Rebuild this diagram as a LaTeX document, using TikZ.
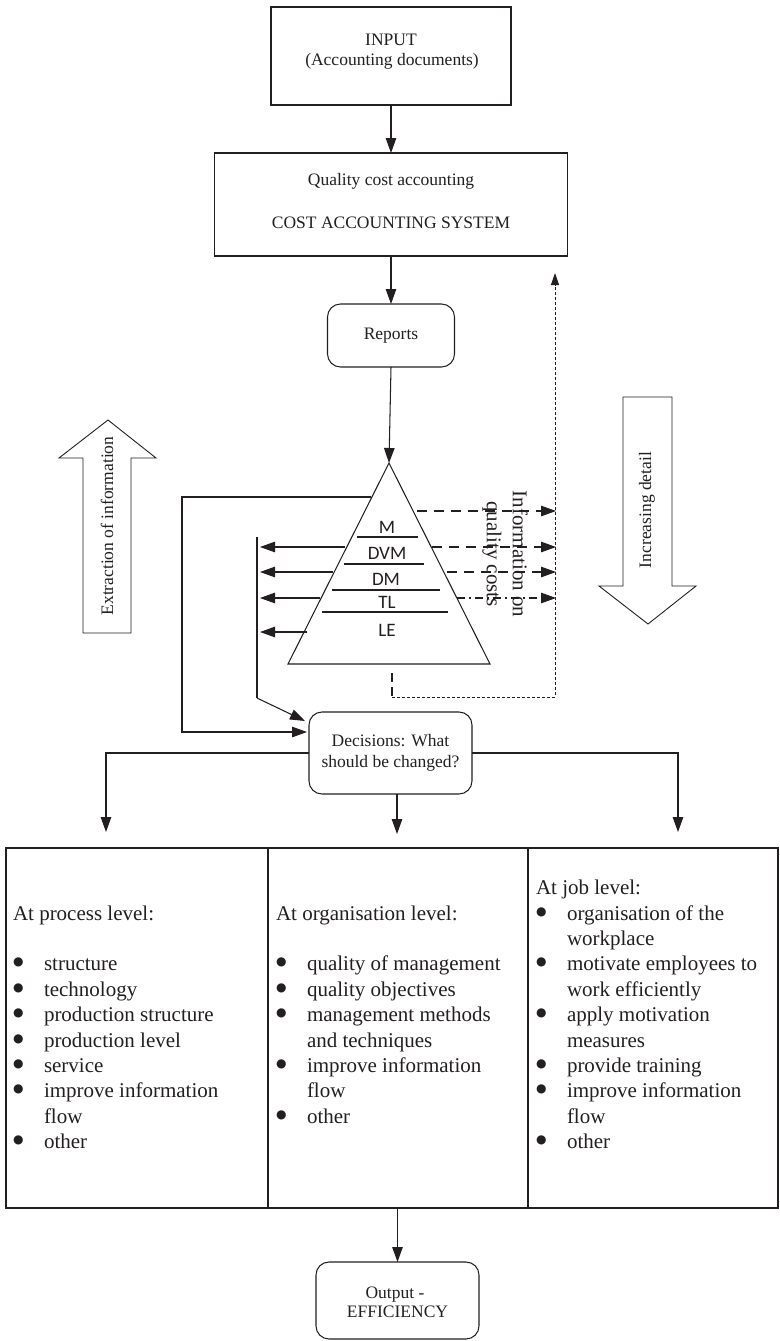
\documentclass[tikz,border=0pt]{standalone}
\usepackage{fontspec}
\setmainfont{Liberation Serif}
\newfontfamily\levelfont{Carlito}
\newfontfamily\dotfont{DejaVu Sans}
\usetikzlibrary{arrows.meta}

\definecolor{ink}{RGB}{35,31,32}

% one bullet entry of a list in a table cell, and its continuation line
\newcommand{\bigdot}{\raisebox{5pt}{\dotfont\fontsize{12}{12}\selectfont ●}}
\newcommand{\bulletline}[1]{\makebox[31pt][l]{\bigdot}#1}
\newcommand{\hangline}[1]{\hspace*{31pt}#1}

\begin{document}
\begin{tikzpicture}[x=1pt,y=-1pt,
  every node/.style={inner sep=0pt, outer sep=0pt, text=ink},
  line/.style={draw=ink, line width=1.05pt},
  box/.style={line, rectangle},
  rbox/.style={line, rectangle, rounded corners=13pt},
  arr/.style={line, -{Triangle[length=15pt,width=10.5pt]}},
  info/.style={line, dash pattern=on 10pt off 7pt, -{Triangle[length=15pt,width=10.5pt]}},
  fine/.style={line, line width=0.9pt, dash pattern=on 3pt off 2pt},
  body/.style={font=\fontsize{17.5}{21}\selectfont},
  celltext/.style={font=\fontsize{21}{25.4}\selectfont, anchor=base west},
  level/.style={font=\levelfont\fontsize{19}{22}\selectfont},
  bigarrow/.style={line, line width=0.9pt, fill=white},
]
\useasboundingbox (0,0) rectangle (779,1341);

% ---------- upper chain ----------
\node[box, minimum width=240, minimum height=98] (input) at (391,56) {};
\node[body, anchor=base] (inputtitle) at (391,45) {INPUT};
\node[body, anchor=base] (inputsub) at (392,65) {(Accounting documents)};

\node[box, minimum width=353, minimum height=103] (cas) at (391,204.5) {};
\node[body, anchor=base] (castitle) at (391,185) {Quality cost accounting};
\node[body, anchor=base] (cassub) at (391,228) {COST ACCOUNTING SYSTEM};

\node[rbox, minimum width=127, minimum height=63, body] (reports) at (391,335.5) {Reports};

\draw[arr] (input.south) -- (cas.north);
\draw[arr] (cas.south) -- (reports.north);

% ---------- pyramid of management levels ----------
\coordinate (apex) at (389,463);
\coordinate (bl) at (288,664);
\coordinate (br) at (490,664);
\draw[line] (apex) -- (bl) -- (br) -- cycle;
\draw[arr] (reports.south) -- (apex);

\draw[line] (357,537) -- (418,537);
\draw[line] (344,564) -- (424,564);
\draw[line] (332,590) -- (440,590);
\draw[line] (322,612) -- (448,612);
\node[level] (lvM) at (387,527) {M};
\node[level] (lvDVM) at (387,553) {DVM};
\node[level] (lvDM) at (386,579) {DM};
\node[level] (lvTL) at (387,602) {TL};
\node[level] (lvLE) at (387,630) {LE};

% ---------- decisions ----------
\node[rbox, minimum width=163, minimum height=82, body, align=center] (decisions) at (390.5,753) {Decisions: What\\should be changed?};

% collector on the left of the pyramid
\coordinate (ctop) at (257,537);
\coordinate (cbot) at (257,698);
\draw[line] (ctop) -- (cbot);
\coordinate (l1) at (345,547);
\coordinate (l2) at (333,572);
\coordinate (l3) at (320,598);
\coordinate (l4) at (307,632);
\draw[arr] (l1) -- (260,547);
\draw[arr] (l2) -- (260,572);
\draw[arr] (l3) -- (260,598);
\draw[arr] (l4) -- (260,632);
\coordinate (dcorner) at (305,721);
\draw[arr] (cbot) -- (dcorner);

% outer loop from the top of the pyramid
\coordinate (loopstart) at (371,497);
\coordinate (loopin) at (307,732);
\draw[arr] (loopstart) -- (182,497) -- (182,732) -- (loopin);

% information on quality costs, to the right
\coordinate (r1) at (417,511);
\coordinate (r2) at (432,547);
\coordinate (r3) at (447,572);
\coordinate (r4) at (457,598);
\draw[info] (r1) -- (556,511);
\draw[info] (r2) -- (556,547);
\draw[info] (r3) -- (556,572);
\draw[line, dash pattern=on 8pt off 4pt on 2pt off 4pt, -{Triangle[length=15pt,width=10.5pt]}] (r4) -- (556,598);
\node[rotate=-90, align=center, font=\fontsize{21}{26}\selectfont] (infotext) at (505,554) {Information on\\quality costs};

% feedback from the base of the pyramid
\coordinate (fb0) at (392,673);
\coordinate (fb1) at (392,697);
\coordinate (fb2) at (555,697);
\coordinate (fb3) at (555,273);
\draw[line, dash pattern=on 9pt off 5pt] (fb0) -- (fb1);
\draw[fine, -{Triangle[length=12pt,width=8pt]}] (fb1) -- (fb2) -- (fb3);

% ---------- block arrows ----------
\draw[bigarrow] (83,633) -- (83,458) -- (59,458) -- (108,420) -- (156,458) -- (131,458) -- (131,633) -- cycle;
\node[body, rotate=90] (extract) at (107,526) {Extraction of information};

\draw[bigarrow] (623,397) -- (672,397) -- (672,586) -- (696,586) -- (648,624) -- (599,586) -- (623,586) -- cycle;
\node[body, rotate=90] (detail) at (647,510) {Increasing detail};

% ---------- table of changes ----------
\node[box, minimum width=262, minimum height=360, anchor=north west] (c1) at (6,848) {};
\node[box, minimum width=260, minimum height=360, anchor=north west] (c2) at (268,848) {};
\node[box, minimum width=250, minimum height=360, anchor=north west] (c3) at (528,848) {};

\coordinate (c1top) at (106,832);
\coordinate (c2top) at (397,834);
\coordinate (c3top) at (678,832);
\draw[arr] (decisions.west) -| (c1top);
\draw[arr] (decisions.east) -| (c3top);
\draw[arr] (decisions.south -| c2top) -- (c2top);

\node[celltext] (t1) at (13,920) {\parbox[t]{245pt}{\raggedright
  At process level:\\[25.4pt]
  \bulletline{structure}\\
  \bulletline{technology}\\
  \bulletline{production structure}\\
  \bulletline{production level}\\
  \bulletline{service}\\
  \bulletline{improve information}\\
  \hangline{flow}\\
  \bulletline{other}}};

\node[celltext] (t2) at (276,920) {\parbox[t]{245pt}{\raggedright
  At organisation level:\\[25.4pt]
  \bulletline{quality of management}\\
  \bulletline{quality objectives}\\
  \bulletline{management methods}\\
  \hangline{and techniques}\\
  \bulletline{improve information}\\
  \hangline{flow}\\
  \bulletline{other}}};

\node[celltext] (t3) at (536,894.6) {\parbox[t]{240pt}{\raggedright
  At job level:\\
  \bulletline{organisation of the}\\
  \hangline{workplace}\\
  \bulletline{motivate employees to}\\
  \hangline{work efficiently}\\
  \bulletline{apply motivation}\\
  \hangline{measures}\\
  \bulletline{provide training}\\
  \bulletline{improve information}\\
  \hangline{flow}\\
  \bulletline{other}}};

% ---------- output ----------
\node[rbox, minimum width=163, minimum height=77] (output) at (397.5,1300.5) {};
\node[body, anchor=base] (outtitle) at (395,1298) {Output -};
\node[body, anchor=base] (outsub) at (397.5,1317) {EFFICIENCY};
\draw[arr] (c2.south -| output.north) -- (output.north);

\end{tikzpicture}
\end{document}
